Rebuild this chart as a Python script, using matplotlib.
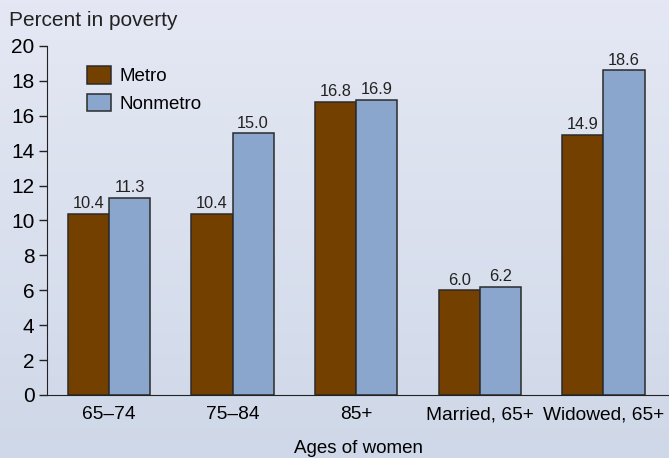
import numpy as np
import matplotlib.pyplot as plt
from matplotlib.patches import Patch

plt.rcParams["font.family"] = ["Liberation Sans", "DejaVu Sans"]

# Data ------------------------------------------------------------------

Groups = ["65\u201374", "75\u201384", "85+", "Married, 65+", "Widowed, 65+"]
Metro = [10.4, 10.4, 16.8, 6.0, 14.9]
Nonmetro = [11.3, 15.0, 16.9, 6.2, 18.6]

Col_Metro = "#744000"
Col_Non = "#8ba6cd"
Edge = "#2b2b2b"

# Plotting --------------------------------------------------------------

fig = plt.figure(figsize=(6.69, 4.58), dpi=100)

# background gradient
bg = fig.add_axes([0, 0, 1, 1], zorder=-10)
grad = np.linspace(0, 1, 256).reshape(-1, 1)
c_top = np.array([0.898, 0.910, 0.957])
c_bot = np.array([0.812, 0.847, 0.910])
img = c_top + (c_bot - c_top) * grad[:, :, None]
bg.imshow(img, aspect="auto", extent=[0, 1, 0, 1])
bg.axis("off")

ax = fig.add_axes([0.0703, 0.1376, 0.9297, 0.762])
ax.patch.set_alpha(0)

x = np.arange(len(Groups))
w = 0.333

b1 = ax.bar(x - w / 2, Metro, w, color=Col_Metro, edgecolor=Edge, linewidth=1.1, label="Metro")
b2 = ax.bar(x + w / 2, Nonmetro, w, color=Col_Non, edgecolor=Edge, linewidth=1.1, label="Nonmetro")

for bars in (b1, b2):
    for b in bars:
        ax.text(b.get_x() + b.get_width() / 2, b.get_height() + 0.15, f"{b.get_height():.1f}",
                ha="center", va="bottom", fontsize=11.8, color="#222222")

ax.set_xlim(-0.5, 4.53)
ax.set_ylim(0, 20)
ax.set_yticks(range(0, 21, 2))
ax.set_xticks(x)
ax.set_xticklabels(Groups)

for s in ["top", "right"]:
    ax.spines[s].set_visible(False)
ax.spines["left"].set_color("#222222")
ax.spines["bottom"].set_color("#222222")
ax.tick_params(axis="y", length=6, width=1, labelsize=15, pad=3, color="#222222")
ax.tick_params(axis="x", length=0, labelsize=13.8, pad=8)

ax.set_xlabel("Ages of women", fontsize=13.5, labelpad=12)
fig.text(0.013, 0.955, "Percent in poverty", fontsize=15, ha="left", va="center", color="#222222")

handles = [Patch(facecolor=Col_Metro, edgecolor=Edge, linewidth=1.1),
           Patch(facecolor=Col_Non, edgecolor=Edge, linewidth=1.1)]
ax.legend(handles, ["Metro", "Nonmetro"], loc="upper left", bbox_to_anchor=(0.037, 0.99),
          frameon=False, fontsize=13.5, handlelength=1.3, handleheight=1.05, handletextpad=0.45,
          labelspacing=0.45)

plt.savefig("out.png", dpi=100)
